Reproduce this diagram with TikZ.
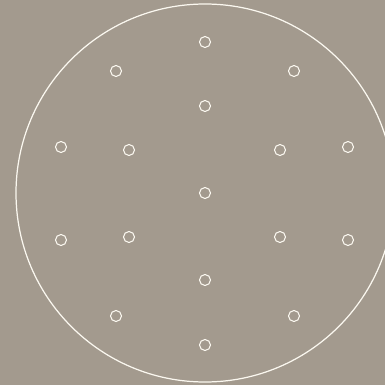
\documentclass[tikz,border=0pt]{standalone}
\usepackage{xcolor}
\usepackage{tikz}
\usetikzlibrary{positioning}
\definecolor{taupe}{HTML}{A39A8E}
\definecolor{chalk}{HTML}{FBF8F0}

\begin{document}
\begin{tikzpicture}[x=0.02cm,y=-0.02cm,
  hole/.style={circle,draw=chalk,line width=0.6pt,minimum size=0.22cm,inner sep=0pt}]
\fill[taupe] (0,0) rectangle (385,385);
\useasboundingbox (0,0) rectangle (385,385);
\draw[chalk,line width=0.7pt] (205,193) circle[radius=189];
\node[hole] (top) at (205,42) {};
\node[hole] (ul) at (116,71) {};
\node[hole] (ur) at (294,71) {};
\node[hole] (uc) at (205,106) {};
\node[hole] (lo1) at (61,147) {};
\node[hole] (li1) at (129,150) {};
\node[hole] (ri1) at (280,150) {};
\node[hole] (ro1) at (348,147) {};
\node[hole] (mid) at (205,193) {};
\node[hole] (lo2) at (61,240) {};
\node[hole] (li2) at (129,237) {};
\node[hole] (ri2) at (280,237) {};
\node[hole] (ro2) at (348,240) {};
\node[hole] (lc) at (205,280) {};
\node[hole] (ll) at (116,316) {};
\node[hole] (lr) at (294,316) {};
\node[hole] (bot) at (205,345) {};
\end{tikzpicture}
\end{document}
